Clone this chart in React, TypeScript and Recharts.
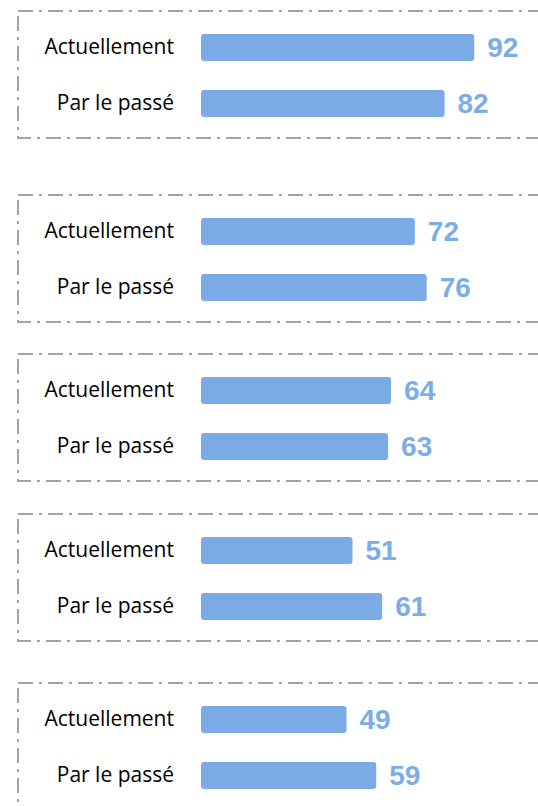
import React from 'react';
import { BarChart, Bar, XAxis, YAxis, LabelList } from 'recharts';

// categories and values, one pair per panel
const categories = ['Actuellement', 'Par le passé'];
const currentValues = [92, 72, 64, 51, 49];
const pastValues = [82, 76, 63, 61, 59];

const panelTops = [10, 194, 353, 513, 682];
const PANEL_LEFT = 17;
const PANEL_W = 530;
const PANEL_H = 129;
const BAR_COLOR = '#7aabe5';
const LABEL_COLOR = '#7dade5';

const PanelBorder = () => (
    <svg
        width={PANEL_W}
        height={PANEL_H}
        style={{ position: 'absolute', left: 0, top: 0, pointerEvents: 'none' }}
    >
        <rect
            x={1}
            y={1}
            width={PANEL_W - 2}
            height={PANEL_H - 2}
            fill="none"
            stroke="#a3a3a3"
            strokeWidth={2}
            strokeDasharray="15 6 3 6"
        />
    </svg>
);

const Panel = ({ current, past, top }: { current: number; past: number; top: number }) => {
    const data = [
        { name: categories[0], value: current },
        { name: categories[1], value: past }
    ];

    return (
        <div style={{ position: 'absolute', left: PANEL_LEFT, top, width: PANEL_W, height: PANEL_H }}>
            <PanelBorder />
            <BarChart
                width={PANEL_W}
                height={PANEL_H}
                data={data}
                layout="vertical"
                margin={{ top: 9, right: 49, bottom: 8, left: 0 }}
            >
                <XAxis type="number" domain={[0, 100]} hide />
                <YAxis
                    type="category"
                    dataKey="name"
                    width={184}
                    axisLine={false}
                    tickLine={false}
                    tickMargin={21}
                    tick={{ fontSize: 21, fill: '#000000', fontFamily: '"Open Sans", sans-serif' }}
                />
                <Bar dataKey="value" fill={BAR_COLOR} barSize={27} radius={3} isAnimationActive={false}>
                    <LabelList
                        dataKey="value"
                        position="right"
                        offset={13}
                        fill={LABEL_COLOR}
                        style={{ fontSize: 28, fontWeight: 'bold', fontFamily: '"Liberation Sans", Arial, sans-serif' }}
                    />
                </Bar>
            </BarChart>
        </div>
    );
};

export default function App() {
    return (
        <div
            style={{
                position: 'absolute',
                left: 0,
                top: 0,
                width: 538,
                height: 806,
                overflow: 'hidden',
                background: '#ffffff'
            }}
        >
            {currentValues.map((v, i) => (
                <Panel key={i} current={v} past={pastValues[i]} top={panelTops[i]} />
            ))}
        </div>
    );
}
